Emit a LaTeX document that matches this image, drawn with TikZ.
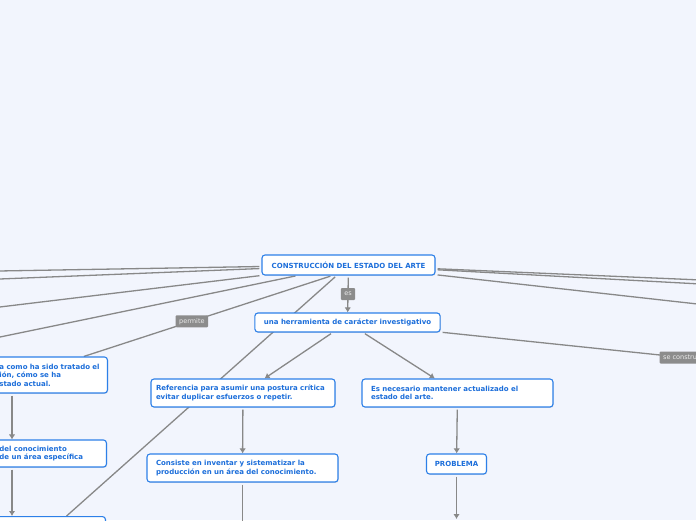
\documentclass[tikz,border=0pt]{standalone}
\usepackage{fontspec}
\setmainfont{DejaVu Sans}
\usetikzlibrary{arrows.meta,backgrounds,shadows}
\definecolor{fondo}{RGB}{242,245,253}
\definecolor{azul}{RGB}{28,110,218}
\definecolor{borde}{RGB}{45,128,232}
\definecolor{linea}{RGB}{136,136,136}
\definecolor{etiq}{RGB}{140,140,140}
\begin{document}
\begin{tikzpicture}[>={Latex[length=5pt,width=6.5pt]}, x=1pt, y=-1pt,
 box/.style={draw=borde, line width=1.1pt, fill=white, rounded corners=3pt, text=azul,
  font=\fontsize{7pt}{8.5pt}\selectfont\bfseries, inner xsep=9pt, inner ysep=3pt,
  drop shadow={opacity=0.2, shadow xshift=0.7pt, shadow yshift=-0.9pt}},
 con/.style={draw=linea, line width=1.3pt, shorten <=2pt},
 lbl/.style={fill=etiq, text=white!92!black, font=\fontsize{6.5pt}{7pt}\selectfont,
  inner xsep=3.5pt, inner ysep=0pt, minimum height=12pt, rounded corners=1pt}]
 \useasboundingbox (0,0) rectangle (696,520);
 % nodos
 \node[box, minimum width=173pt, minimum height=20pt] (estado) at (348.5,265) {CONSTRUCCIÓN DEL ESTADO DEL ARTE};
 \node[box, minimum width=181pt, minimum height=19pt] (herram) at (347.5,322.5) {una herramienta de carácter investigativo};
 \node[box, text width=174pt, inner xsep=5pt, align=left, minimum height=28pt] (refer) at (243,393) {Referencia para asumir una postura crítica\\evitar duplicar esfuerzos o repetir.};
 \node[box, text width=173pt, align=left, minimum height=28pt] (necesario) at (457.5,393) {Es necesario mantener actualizado el\\estado del arte.};
 \node[box, text width=173pt, align=left, minimum height=28pt] (consiste) at (242.5,468) {Consiste en inventar y sistematizar la\\producción en un área del conocimiento.};
 \node[box, minimum width=60pt, minimum height=20pt, inner xsep=4pt] (problema) at (456.5,464) {PROBLEMA};
 \node[box, anchor=east, text width=200pt, align=left, inner xsep=4pt, minimum height=36pt] (tratado) at (108,375)
  {\hspace*{96pt}a como ha sido tratado el\\\hspace*{96pt}ión, cómo se ha\\\hspace*{96pt}stado actual.};
 \node[box, anchor=east, text width=200pt, align=left, inner xsep=4pt, minimum height=27pt] (conoc) at (107,453.5)
  {\hspace*{97pt}del conocimiento\\\hspace*{97pt}de un área específica};
 \node[box, anchor=north east, minimum width=202pt, minimum height=110pt] (abajo) at (106,516) {};
 % extremos fuera de la hoja
 \coordinate (oeA) at (-60,272);
 \coordinate (oeB) at (-60,281.4);
 \coordinate (oeC) at (-60,314.2);
 \coordinate (oeD) at (-60,349.4);
 \coordinate (esA) at (760,282.5);
 \coordinate (esB) at (760,287.2);
 \coordinate (esC) at (760,311);
 \coordinate (seC) at (1020,392.5);
 \coordinate (consAb) at (242.5,545);
 \coordinate (probAb) at (456.5,519);
 \coordinate (col) at (12,0);
 % conectores
 \begin{scope}[on background layer]
  \fill[fondo] (0,0) rectangle (696,520);
  \draw[con] (estado) -- (oeA);
  \draw[con] (estado) -- (oeB);
  \draw[con] (estado) -- (oeC);
  \draw[con] (estado) -- (oeD);
  \draw[con] (estado) -- (esA);
  \draw[con] (estado) -- (esB);
  \draw[con] (estado) -- (esC);
  \draw[con] (estado) -- (abajo);
  \draw[con] (estado.213) -- node[lbl, pos=0.565] {permite} (tratado.13);
  \draw[con, ->] (estado) -- node[lbl] {es} (herram);
  \draw[con] (herram) -- node[lbl, pos=0.42] {se construye} (seC);
  \draw[con, ->] (herram) -- (refer);
  \draw[con, ->] (herram) -- (necesario);
  \draw[con, ->] (refer) -- (consiste);
  \draw[con, ->] (necesario) -- (problema);
  \draw[con, ->] (consiste) -- (consAb);
  \draw[con, ->] (problema) -- (probAb);
  \draw[con, ->] (tratado.south -| col) -- (conoc.north -| col);
  \draw[con, ->] (conoc.south -| col) -- (abajo.north -| col);
 \end{scope}
\end{tikzpicture}
\end{document}
